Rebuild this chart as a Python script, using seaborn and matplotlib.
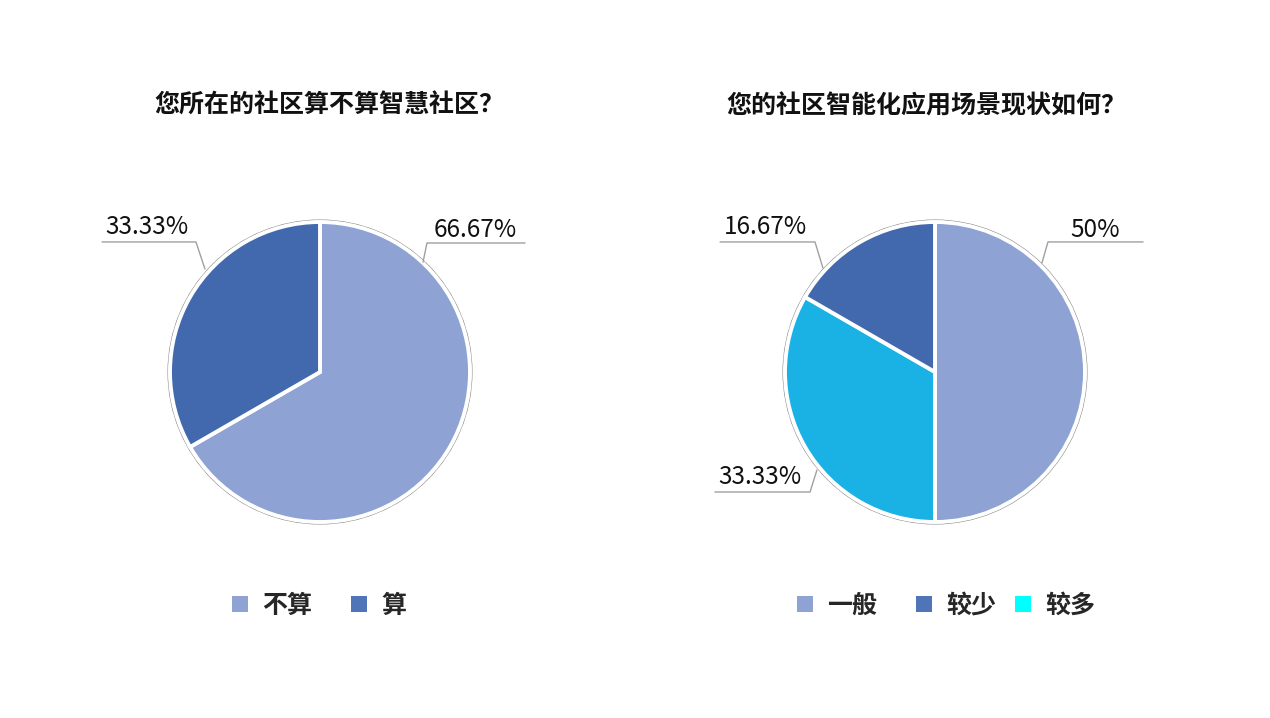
import matplotlib
matplotlib.use('Agg')
import matplotlib.pyplot as plt
import seaborn as sns
from matplotlib.patches import Patch, Circle

sns.set_theme(style='white')
plt.rcParams['font.family'] = ['Noto Sans CJK SC', 'DejaVu Sans']

# --- data ---
left_title = '您所在的社区算不算智慧社区？'
left_labels = ['不算', '算']
left_values = [66.67, 33.33]
left_text = ['66.67%', '33.33%']

right_title = '您的社区智能化应用场景现状如何？'
right_labels = ['一般', '较少', '较多']
right_values = [50, 16.67, 33.33]
right_text = ['50%', '16.67%', '33.33%']

# draw order (clockwise from top) for the right pie
right_draw = [0, 2, 1]

light = '#8FA2D4'
dark = '#4268AD'
cyan = '#1AB2E4'
legend_colors = {'一般': '#8FA2D4', '不算': '#8FA2D4', '较少': '#4F74B8',
                 '算': '#4F74B8', '较多': '#00FFFF'}

# legend entry x positions (px) as in the original layout
left_leg_x = [232, 351]
right_leg_x = [797, 916, 1015]

fig = plt.figure(figsize=(12.7, 7.18), dpi=100)

R = 150.0  # pie radius in px
CY = 372   # pie centre, px from top


def make_ax(x0, x1):
    ax = fig.add_axes([x0 / 1270, 0, (x1 - x0) / 1270, 1])
    ax.axis('off')
    return ax


def set_lims(ax, x0, x1, cx):
    ax.set_xlim((x0 - cx) / R, (x1 - cx) / R)
    ax.set_ylim(-(718 - CY) / R, CY / R)
    ax.set_aspect('equal')


def leader(ax, anchor, elbow, end, text, tx, ty):
    ax.plot([anchor[0], elbow[0], end], [anchor[1], elbow[1], elbow[1]],
            color='#A0A0A0', lw=1.0, zorder=1)
    ax.text(tx, ty, text, ha='center', va='center', fontsize=17.5,
            fontweight='light', color='#111111')


def draw_pie(ax, values, colors):
    ax.add_patch(Circle((0, 0), 1.013, facecolor='none', edgecolor='#8A8A8A',
                        lw=0.8, zorder=0))
    ax.pie(values, colors=colors, startangle=90, counterclock=False,
           radius=1.0, wedgeprops=dict(edgecolor='white', linewidth=2.8))


def legend_row(labels, xs):
    for lab, x in zip(labels, xs):
        h = Patch(facecolor=legend_colors[lab], edgecolor='none')
        fig.legend([h], [lab], loc='center left',
                   bbox_to_anchor=(x / 1270, 1 - 606 / 718),
                   frameon=False, borderpad=0, borderaxespad=0,
                   handlelength=0.64, handleheight=0.64, handletextpad=0.56,
                   prop={'family': ['Noto Sans CJK SC', 'DejaVu Sans'],
                         'weight': 'bold', 'size': 18})


# left pie
axl = make_ax(0, 635)
draw_pie(axl, left_values, [light, dark])
set_lims(axl, 0, 635, 320)
leader(axl, (0.687, 0.733), (0.713, 0.86), 1.367, left_text[0], 1.033, 0.95)
leader(axl, (-0.767, 0.687), (-0.827, 0.867), -1.453, left_text[1], -1.153, 0.97)

# right pie
axr = make_ax(635, 1270)
draw_pie(axr, [right_values[i] for i in right_draw], [light, cyan, dark])
set_lims(axr, 635, 1270, 935)
leader(axr, (0.713, 0.727), (0.753, 0.867), 1.387, right_text[0], 1.067, 0.95)
leader(axr, (-0.747, 0.693), (-0.8, 0.867), -1.433, right_text[1], -1.133, 0.97)
leader(axr, (-0.787, -0.653), (-0.833, -0.8), -1.467, right_text[2], -1.167, -0.7)

# titles
fig.text(329 / 1270, 1 - 106 / 718, left_title, ha='center', va='center',
         fontsize=18, fontweight='bold', color='#111111')
fig.text(926 / 1270, 1 - 106 / 718, right_title, ha='center', va='center',
         fontsize=18, fontweight='bold', color='#111111')

# legends
legend_row(left_labels, left_leg_x)
legend_row(right_labels, right_leg_x)

fig.savefig('out.png', dpi=100, facecolor='white')
